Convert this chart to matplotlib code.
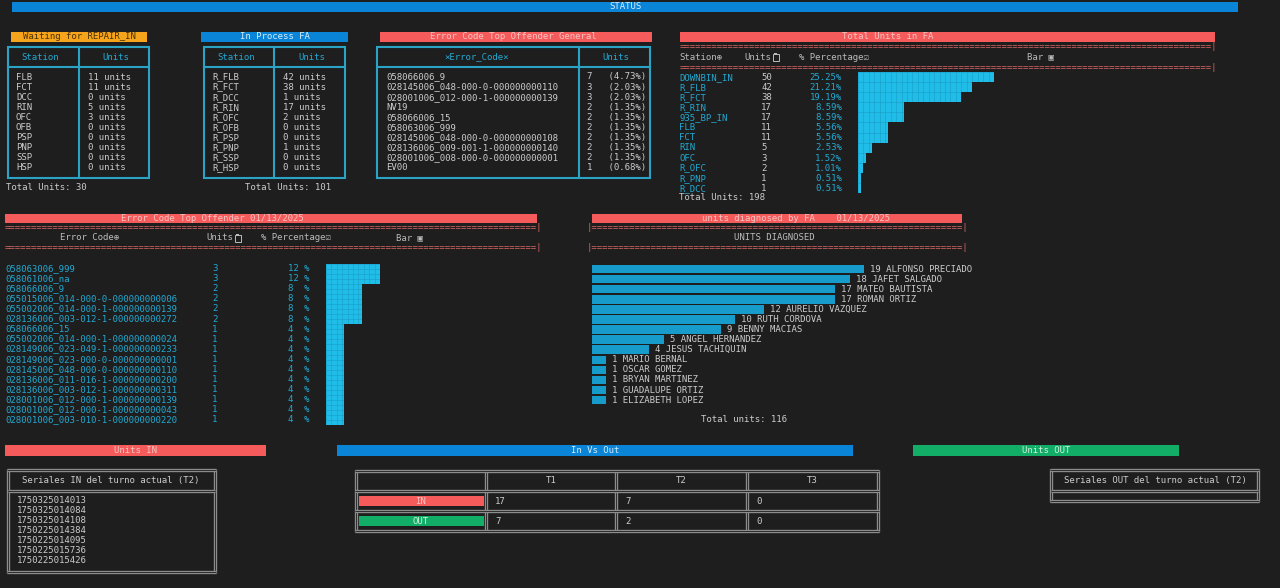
import matplotlib
matplotlib.use("Agg")
import matplotlib.pyplot as plt
from matplotlib.patches import Rectangle
import numpy as np

# Data
waiting_stations = ["FLB", "FCT", "DCC", "RIN", "OFC", "OFB", "PSP", "PNP", "SSP", "HSP"]
waiting_units = [11, 11, 0, 5, 3, 0, 0, 0, 0, 0]

process_stations = ["R_FLB", "R_FCT", "R_DCC", "R_RIN", "R_OFC", "R_OFB", "R_PSP", "R_PNP", "R_SSP", "R_HSP"]
process_units = [42, 38, 1, 17, 2, 0, 0, 1, 0, 0]

general_codes = ["058066006_9", "028145006_048-000-0-000000000110", "028001006_012-000-1-000000000139",
                 "NV19", "058066006_15", "058063006_999", "028145006_048-000-0-000000000108",
                 "028136006_009-001-1-000000000140", "028001006_008-000-0-000000000001", "EV00"]
general_units = [7, 3, 3, 2, 2, 2, 2, 2, 2, 1]
general_pct = [4.73, 2.03, 2.03, 1.35, 1.35, 1.35, 1.35, 1.35, 1.35, 0.68]

fa_stations = ["DOWNBIN_IN", "R_FLB", "R_FCT", "R_RIN", "935_BP_IN", "FLB", "FCT", "RIN", "OFC",
               "R_OFC", "R_PNP", "R_DCC"]
fa_units = [50, 42, 38, 17, 17, 11, 11, 5, 3, 2, 1, 1]
fa_pct = [25.25, 21.21, 19.19, 8.59, 8.59, 5.56, 5.56, 2.53, 1.52, 1.01, 0.51, 0.51]

day_codes = ["058063006_999", "058061006_na", "058066006_9", "055015006_014-000-0-000000000006",
             "055002006_014-000-1-000000000139", "028136006_003-012-1-000000000272", "058066006_15",
             "055002006_014-000-1-000000000024", "028149006_023-049-1-000000000233",
             "028149006_023-000-0-000000000001", "028145006_048-000-0-000000000110",
             "028136006_011-016-1-000000000200", "028136006_003-012-1-000000000311",
             "028001006_012-000-1-000000000139", "028001006_012-000-1-000000000043",
             "028001006_003-010-1-000000000220"]
day_units = [3, 3, 2, 2, 2, 2, 1, 1, 1, 1, 1, 1, 1, 1, 1, 1]
day_pct = [12, 12, 8, 8, 8, 8, 4, 4, 4, 4, 4, 4, 4, 4, 4, 4]

techs = ["ALFONSO PRECIADO", "JAFET SALGADO", "MATEO BAUTISTA", "ROMAN ORTIZ", "AURELIO VAZQUEZ",
         "RUTH CORDOVA", "BENNY MACIAS", "ANGEL HERNANDEZ", "JESUS TACHIQUIN", "MARIO BERNAL",
         "OSCAR GOMEZ", "BRYAN MARTINEZ", "GUADALUPE ORTIZ", "ELIZABETH LOPEZ"]
tech_units = [19, 18, 17, 17, 12, 10, 9, 5, 4, 1, 1, 1, 1, 1]

serials_in = ["1750325014013", "1750325014084", "1750325014108", "1750225014384",
              "1750225014095", "1750225015736", "1750225015426"]
shifts = ["T1", "T2", "T3"]
shift_in = [17, 7, 0]
shift_out = [7, 2, 0]

# Colors
BG = "#1e1e1e"
WHITE = "#cccccc"
HEAD = "#bbbbbb"
CYAN = "#22a9d2"
CYAN_B = "#2aa3c4"
RED = "#f65b5b"
RED_T = "#f6c4c4"
RED_LINE = "#d86464"
BLUE = "#0a84d6"
ORANGE = "#f5a41c"
GREEN = "#12ad67"
GREY = "#8c8c8c"
FA_BAR = "#1fbde8"
GRID = "#189dc7"
DIAG_BAR = "#179bca"

W, H = 1280, 588
plt.rcParams["font.family"] = ["DejaVu Sans Mono", "DejaVu Sans"]
plt.rcParams["font.size"] = 6.5

fig = plt.figure(figsize=(12.8, 5.88), dpi=100, facecolor=BG)
ax = fig.add_axes([0, 0, 1, 1], facecolor=BG)
ax.set_xlim(0, W)
ax.set_ylim(H, 0)
ax.axis("off")


def px_axes(x0, y0, x1, y1):
    a = fig.add_axes([x0 / W, 1 - y1 / H, (x1 - x0) / W, (y1 - y0) / H])
    a.axis("off")
    return a


def banner(x0, x1, y0, y1, color, label, tcolor, tx=None):
    ax.add_patch(Rectangle((x0, y0), x1 - x0, y1 - y0, color=color, lw=0))
    ax.text((x0 + x1) / 2 if tx is None else tx, (y0 + y1) / 2, label, color=tcolor,
            ha="center", va="center")


def txt(x, y, s, color=WHITE, ha="left"):
    ax.text(x, y, s, color=color, ha=ha, va="center")


def clip_icon(x, y):
    # clipboard symbol (no installed font has U+2398)
    ax.add_patch(Rectangle((x, y - 3.5), 6, 7, fill=False, ec=HEAD, lw=0.7))
    ax.add_patch(Rectangle((x + 1.5, y - 4.5), 3, 2, color=HEAD, lw=0))


def units_head(x, y):
    txt(x, y, "Units", HEAD)
    clip_icon(x + 28.5, y)


def cyan_box(x0, x1, y0, yd, y1, xc):
    ax.add_patch(Rectangle((x0, y0), x1 - x0, y1 - y0, fill=False, ec=CYAN_B, lw=1.5))
    ax.plot([x0, x1], [yd, yd], color=CYAN_B, lw=1.5)
    ax.plot([xc, xc], [y0, y1], color=CYAN_B, lw=1.5)


def grey_line(xs, ys):
    ax.plot(xs, ys, color=GREY, lw=2.4, solid_capstyle="butt")
    ax.plot(xs, ys, color=BG, lw=0.6, solid_capstyle="butt")


def grey_box(x0, y0, x1, y1):
    for x in (x0, x1):
        grey_line([x, x], [y0 - 1, y1 + 1])
    for y in (y0, y1):
        grey_line([x0 - 1, x1 + 1], [y, y])


def cell_grid(a, bars, xstep, xmax, n, ystep):
    # thin grid lines drawn only inside each bar
    for b in bars:
        v = a.vlines(np.arange(0, xmax + xstep, xstep), -0.5, n, color=GRID, lw=0.4)
        h = a.hlines(np.arange(-0.5, n, ystep), 0, xmax, color=GRID, lw=0.4)
        v.set_clip_path(b)
        h.set_clip_path(b)


# STATUS header
banner(12, 1238, 2, 11.5, BLUE, "STATUS", "#d8ecfa", tx=625)

# Waiting for REPAIR_IN
banner(11, 147, 32, 41.5, ORANGE, "Waiting for REPAIR_IN", "#4a3200")
cyan_box(8, 149, 46.5, 66.5, 178, 79)
txt(40, 57, "Station", CYAN, "center")
txt(116, 57, "Units", CYAN, "center")
for i, (s, u) in enumerate(zip(waiting_stations, waiting_units)):
    y = 77 + i * 10.1
    txt(16, y, s)
    txt(88, y, f"{u} units")
txt(6, 188, f"Total Units: {sum(waiting_units)}")

# In Process FA
banner(201, 348, 32, 41.5, BLUE, "In Process FA", "#d8ecfa")
cyan_box(204, 345, 46.5, 66.5, 178, 274)
txt(236, 57, "Station", CYAN, "center")
txt(312, 57, "Units", CYAN, "center")
for i, (s, u) in enumerate(zip(process_stations, process_units)):
    y = 77 + i * 10.1
    txt(212, y, s)
    txt(283, y, f"{u} units")
txt(245, 188, f"Total Units: {sum(process_units)}")

# Error Code Top Offender General
banner(380, 652, 32, 41.5, RED, "Error Code Top Offender General", RED_T, tx=513)
cyan_box(377, 650, 46.5, 67, 178, 579)
txt(477, 57, "×Error_Code×", CYAN, "center")
txt(616, 57, "Units", CYAN, "center")
for i, (c, u, p) in enumerate(zip(general_codes, general_units, general_pct)):
    y = 77 + i * 10.1
    txt(386, y, c)
    txt(587, y, f"{u:<4d}({p:.2f}%)")

# Total Units in FA
banner(680, 1215, 32, 41.5, RED, "Total Units in FA", RED_T, tx=888)
txt(680, 46.5, "=" * 99 + "|", RED_LINE)
txt(679, 57, "Station⊕", HEAD)
units_head(744, 57)
txt(799, 57, "% Percentage☑", HEAD)
txt(1027, 57, "Bar ▣", HEAD)
txt(680, 67, "=" * 99 + "|", RED_LINE)
for i, (s, u, p) in enumerate(zip(fa_stations, fa_units, fa_pct)):
    y = 77.3 + i * 10.09
    txt(679, y, s, CYAN)
    txt(761, y, str(u))
    txt(842, y, f"{p:.2f}%", CYAN, "right")
txt(679, 198, f"Total Units: {sum(fa_units)}")

n_fa = len(fa_units)
fa_ax = px_axes(858, 72, 994, 193)
fa_ax.set_xlim(0, max(fa_units))
fa_ax.set_ylim(n_fa - 0.5, -0.5)
fa_bars = fa_ax.barh(range(n_fa), fa_units, height=1.0, color=FA_BAR, lw=0)
cell_grid(fa_ax, fa_bars, 2, max(fa_units), n_fa, 1.0)

# Error Code Top Offender 01/13/2025
banner(5, 537, 213.5, 223, RED, "Error Code Top Offender 01/13/2025", RED_T, tx=212)
txt(5, 228, "=" * 99 + "|", RED_LINE)
txt(60, 238, "Error Code⊕", HEAD)
units_head(206, 238)
txt(261, 238, "% Percentage☑", HEAD)
txt(396, 238, "Bar ▣", HEAD)
txt(5, 248, "=" * 99 + "|", RED_LINE)
for i, (c, u, p) in enumerate(zip(day_codes, day_units, day_pct)):
    y = 268.8 + i * 10.04
    txt(5, y, c, CYAN)
    txt(212, y, str(u), CYAN)
    txt(288, y, f"{p:<3d}%", CYAN)

n_day = len(day_units)
day_ax = px_axes(326, 264, 380, 425)
day_ax.set_xlim(0, max(day_units))
day_ax.set_ylim(n_day - 0.5, -0.5)
day_bars = day_ax.barh(range(n_day), day_units, height=1.0, color=FA_BAR, lw=0)
cell_grid(day_ax, day_bars, 0.3, max(day_units), n_day, 0.5)

# units diagnosed by FA
banner(592, 962, 213.5, 223, RED, "units diagnosed by FA    01/13/2025", RED_T, tx=796)
txt(587, 228, "|" + "=" * 69 + "|", RED_LINE)
txt(774, 238, "UNITS DIAGNOSED", HEAD, "center")
txt(587, 248, "|" + "=" * 69 + "|", RED_LINE)

n_t = len(tech_units)
dg_ax = px_axes(592, 264, 864, 405.2)
dg_ax.set_xlim(0, max(tech_units))
dg_ax.set_ylim(n_t - 0.5, -0.5)
dg_ax.barh(range(n_t), tech_units, height=0.84, color=DIAG_BAR, lw=0)
for i, (v, name) in enumerate(zip(tech_units, techs)):
    dg_ax.annotate(f"{v} {name}", (v, i), xytext=(4.3, 0), textcoords="offset points",
                   va="center", color=WHITE, annotation_clip=False)
txt(701, 419, f"Total units: {sum(tech_units)}")

# Bottom banners
banner(5, 266, 445, 455.5, RED, "Units IN", RED_T)
banner(337, 853, 445, 455.5, BLUE, "In Vs Out", "#d8ecfa")
banner(913, 1179, 445, 455.5, GREEN, "Units OUT", "#cdf2dc")

# Units IN box
grey_box(8, 469.5, 215, 572)
grey_line([8, 215], [490.7, 490.7])
txt(111, 480.5, "Seriales IN del turno actual (T2)", WHITE, "center")
for i, s in enumerate(serials_in):
    txt(17, 500.7 + i * 10, s)

# In Vs Out table
cols = [356, 486, 616, 747, 878]
rows = [470.5, 490.7, 510.7, 530.7]
for x in cols:
    grey_line([x, x], [rows[0] - 1, rows[-1] + 1])
for y in rows:
    grey_line([cols[0] - 1, cols[-1] + 1], [y, y])
for j, s in enumerate(shifts):
    txt((cols[j + 1] + cols[j + 2]) / 2, 480.5, s, WHITE, "center")
ax.add_patch(Rectangle((359, 496), 125, 9.7, color=RED, lw=0))
txt(421, 501, "IN", RED_T, "center")
ax.add_patch(Rectangle((359, 516), 125, 9.7, color=GREEN, lw=0))
txt(421, 521, "OUT", "#cdf2dc", "center")
for j in range(len(shifts)):
    txt(cols[j + 1] + 9, 501, str(shift_in[j]))
    txt(cols[j + 1] + 9, 521, str(shift_out[j]))

# Units OUT box
grey_box(1051, 469.5, 1258, 500.5)
grey_line([1051, 1258], [490.7, 490.7])
txt(1155, 480.5, "Seriales OUT del turno actual (T2)", WHITE, "center")

fig.savefig("out.png", dpi=100, facecolor=BG)
